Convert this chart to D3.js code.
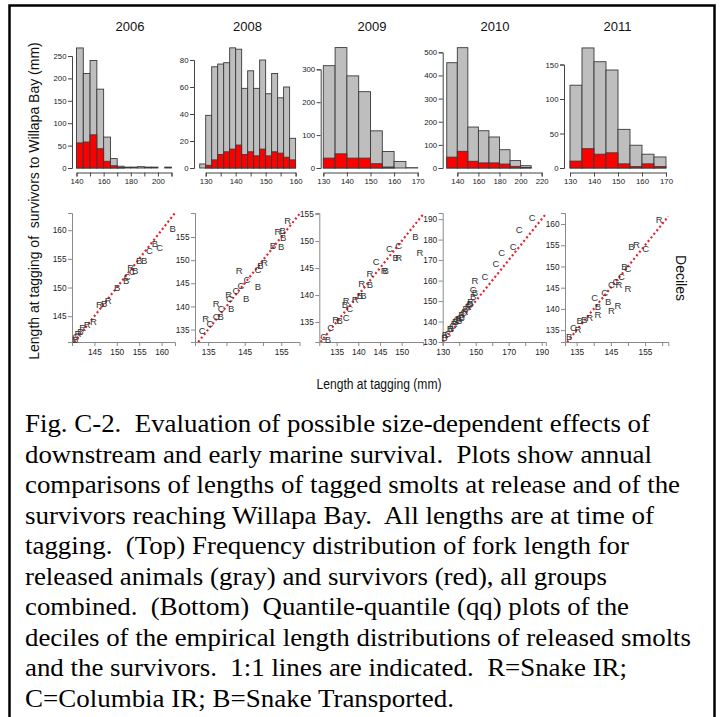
<!DOCTYPE html>
<html><head><meta charset="utf-8">
<script src="https://cdn.jsdelivr.net/npm/d3@7"></script>
<style>
body{margin:0;background:#fff}
svg{display:block}
text{font-family:"Liberation Sans",Arial,sans-serif}
text.cap{font-family:"Liberation Serif","Times New Roman",serif}
</style>
</head><body>
<svg id="c" width="723" height="717"></svg>
<script>
// ---------------- DATA ----------------
const years = ["2006","2008","2009","2010","2011"];

// Histograms: bin starts, bin width, released (gray) counts, survivor (red) counts
const hist2006Start = [140,145,150,155,160,165,170,175,180,185,190,195,200,205];
const hist2006Width = 5;
const hist2006Released = [268,211,240,176,69,21,4,2,2,3,2,2,0,2];
const hist2006Survivors = [56,58,74,43,15,5,1,0,0,0,0,0,0,0];

const hist2008Start = [128,130,132,134,136,138,140,142,144,146,148,150,152,154,156,158];
const hist2008Width = 2;
const hist2008Released = [3,39,75,77,78,89,88,59,72,59,80,55,70,52,60,22];
const hist2008Survivors = [0,2,6,10,12,14,17,10,12,9,14,9,12,11,8,6];

const hist2009Start = [130,135,140,145,150,155,160,165];
const hist2009Width = 5;
const hist2009Released = [311,366,280,232,113,50,20,1];
const hist2009Survivors = [30,43,30,30,13,3,0,0];

const hist2010Start = [130,140,150,160,170,180,190,200];
const hist2010Width = 10;
const hist2010Released = [455,520,177,161,134,79,32,10];
const hist2010Survivors = [47,72,29,22,22,17,7,2];

const hist2011Start = [130,135,140,145,150,155,160,165];
const hist2011Width = 5;
const hist2011Released = [120,174,154,142,56,33,20,16];
const hist2011Survivors = [10,28,20,22,6,2,6,2];

// Histogram axis ticks
const histXTicks2006 = [140,150,160,170,180,190,200,210], histXLabels2006 = [140,160,180,200];
const histXTicks2008 = [130,135,140,145,150,155,160], histXLabels2008 = [130,140,150,160];
const histXTicks2009 = [130,140,150,160,170], histXLabels2009 = [130,140,150,160,170];
const histXTicks2010 = [140,160,180,200,220], histXLabels2010 = [140,160,180,200,220];
const histXTicks2011 = [130,140,150,160,170], histXLabels2011 = [130,140,150,160,170];
const histYTicks2006 = [0,50,100,150,200,250];
const histYTicks2008 = [0,20,40,60,80];
const histYTicks2009 = [0,100,200,300];
const histYTicks2010 = [0,100,200,300,400,500];
const histYTicks2011 = [0,50,100,150];

// QQ plots of deciles: [released length, survivor length] per group
const qqR2006 = [[142.4,143.1],[143.4,143.6],[144.8,144.0],[146.1,147.0],[148.1,147.7],[153.1,153.5],[141.3,141.9]];
const qqC2006 = [[140.9,141.5],[152.3,152.0],[153.5,152.8],[157.3,156.4],[159.6,157.0]];
const qqB2006 = [[140.7,141.0],[141.9,142.3],[147.2,147.3],[150.1,150.0],[152.1,151.2],[154.1,152.9],[155.0,154.8],[156.1,154.8],[158.5,157.6],[162.5,160.3]];

const qqR2008 = [[134.3,137.4],[137.2,140.7],[140.6,142.5],[143.5,147.7],[150.4,149.4],[154.1,156.1],[156.8,158.6]];
const qqC2008 = [[133.4,134.7],[135.5,136.3],[137.2,137.8],[138.6,139.6],[140.8,141.7],[142.6,143.4],[144.0,144.6],[145.6,145.8],[148.6,148.0]];
const qqB2008 = [[138.4,137.8],[141.3,139.6],[145.4,141.8],[148.6,144.3],[149.3,148.9],[152.7,153.2],[155.0,153.0],[155.4,156.4],[155.5,155.0]];

const qqR2009 = [[134.8,135.5],[137.2,139.0],[139.3,139.1],[140.8,142.2],[142.7,144.0],[146.0,144.6],[149.3,146.9],[154.2,147.9]];
const qqC2009 = [[132.0,132.3],[133.6,134.0],[137.2,135.9],[138.0,137.5],[144.1,146.3],[147.2,148.7],[149.3,149.2]];
const qqB2009 = [[133.0,131.8],[135.7,135.3],[136.9,138.2],[140.4,139.9],[141.2,140.0],[142.7,141.9],[146.3,144.6],[148.6,146.9],[153.2,150.8]];

const qqR2010 = [[131.5,133.5],[134.5,136.5],[137,139],[139.5,141.5],[141.5,143.5],[143.5,145],[145.5,147.5],[147,150],[149.6,160.2]];
const qqC2010 = [[133,134],[136,138],[138.5,141],[140.5,142],[142.5,144.5],[146,148.5],[148.5,155.7],[155.6,161.9],[162.3,168.4],[165.8,173.6],[172.8,176.8],[176.3,185.0],[184.2,190.8]];
const qqB2010 = [[131,132],[135,136.5],[137.5,140],[140,140.5],[141.5,142],[144,146.5],[146.5,149],[148.5,152],[149.6,154]];

const qqR2011 = [[135.4,135.2],[138.8,137.9],[141.2,138.7],[145.2,139.7],[147.1,140.7],[147.4,145.8],[150.0,144.8],[152.5,155.2],[159.1,161.0]];
const qqC2011 = [[134.1,135.6],[140.3,142.6],[143.2,143.8],[145.2,145.8],[146.5,146.5],[148.1,147.7],[150.0,149.5],[155.2,154.2]];
const qqB2011 = [[132.8,133.4],[135.9,137.2],[137.3,137.6],[141.2,140.5],[144.2,141.7],[149.0,150.1],[151.0,154.8]];

// QQ axis ticks
const qqXTicks2006 = [145,150,155,160], qqXLabels2006 = [145,150,155,160], qqYTicks2006 = [145,150,155,160];
const qqXTicks2008 = [135,140,145,150,155], qqXLabels2008 = [135,145,155], qqYTicks2008 = [135,140,145,150,155];
const qqXTicks2009 = [135,140,145,150], qqXLabels2009 = [135,140,145,150], qqYTicks2009 = [135,140,145,150,155];
const qqXTicks2010 = [130,140,150,160,170,180,190], qqXLabels2010 = [130,150,170,190], qqYTicks2010 = [130,140,150,160,170,180,190];
const qqXTicks2011 = [135,140,145,150,155,160], qqXLabels2011 = [135,145,155], qqYTicks2011 = [135,140,145,150,155,160];

const yLabel = "Length at tagging of  survivors to Willapa Bay (mm)";
const xLabel = "Length at tagging (mm)";
const sideLabel = "Deciles";
const captionLines = [
  "Fig. C-2.  Evaluation of possible size-dependent effects of",
  "downstream and early marine survival.  Plots show annual",
  "comparisons of lengths of tagged smolts at release and of the",
  "survivors reaching Willapa Bay.  All lengths are at time of",
  "tagging.  (Top) Frequency distribution of fork length for",
  "released animals (gray) and survivors (red), all groups",
  "combined.  (Bottom)  Quantile-quantile (qq) plots of the",
  "deciles of the empirical length distributions of released smolts",
  "and the survivors.  1:1 lines are indicated.  R=Snake IR;",
  "C=Columbia IR; B=Snake Transported."
];

// ---------------- LAYOUT ----------------
const svg = d3.select("#c");
const histBase = 168, histAxisY = 172.5;

const histPanels = [
  {year:years[0], starts:hist2006Start, w:hist2006Width, rel:hist2006Released, sur:hist2006Survivors,
   xDom:[140,210], xRange:[76.5,171.5], yDom:[0,250], yTop:56, axisX:72, titleX:130,
   xTicks:histXTicks2006, xLabels:histXLabels2006, yTicks:histYTicks2006},
  {year:years[1], starts:hist2008Start, w:hist2008Width, rel:hist2008Released, sur:hist2008Survivors,
   xDom:[130,160], xRange:[205.7,295.6], yDom:[0,80], yTop:60, axisX:194, titleX:247.5,
   xTicks:histXTicks2008, xLabels:histXLabels2008, yTicks:histYTicks2008},
  {year:years[2], starts:hist2009Start, w:hist2009Width, rel:hist2009Released, sur:hist2009Survivors,
   xDom:[130,170], xRange:[323.3,417.7], yDom:[0,300], yTop:69.3, axisX:320.7, titleX:372,
   xTicks:histXTicks2009, xLabels:histXLabels2009, yTicks:histYTicks2009},
  {year:years[3], starts:hist2010Start, w:hist2010Width, rel:hist2010Released, sur:hist2010Survivors,
   xDom:[140,220], xRange:[457.3,541.7], yDom:[0,500], yTop:52.3, axisX:442.7, titleX:495,
   xTicks:histXTicks2010, xLabels:histXLabels2010, yTicks:histYTicks2010},
  {year:years[4], starts:hist2011Start, w:hist2011Width, rel:hist2011Released, sur:hist2011Survivors,
   xDom:[130,170], xRange:[570,666], yDom:[0,150], yTop:64.5, axisX:564, titleX:617.5,
   xTicks:histXTicks2011, xLabels:histXLabels2011, yTicks:histYTicks2011}
];

const qqBase = 342, qqTop = 213;
const qqPanels = [
  {xDom:[140,163], xRange:[72,175], yDom:[140.5,163], R:qqR2006, C:qqC2006, B:qqB2006,
   xTicks:qqXTicks2006, xLabels:qqXLabels2006, yTicks:qqYTicks2006},
  {xDom:[131.4,160], xRange:[195,299.5], yDom:[132.3,160.2], R:qqR2008, C:qqC2008, B:qqB2008,
   xTicks:qqXTicks2008, xLabels:qqXLabels2008, yTicks:qqYTicks2008},
  {xDom:[131,155], xRange:[319.3,423.3], yDom:[131.3,155.2], R:qqR2009, C:qqC2009, B:qqB2009,
   xTicks:qqXTicks2009, xLabels:qqXLabels2009, yTicks:qqYTicks2009},
  {xDom:[130,192.5], xRange:[442.7,545.8], yDom:[130,193], R:qqR2010, C:qqC2010, B:qqB2010,
   xTicks:qqXTicks2010, xLabels:qqXLabels2010, yTicks:qqYTicks2010},
  {xDom:[131.6,161.8], xRange:[565,668.3], yDom:[132.2,162.6], R:qqR2011, C:qqC2011, B:qqB2011,
   xTicks:qqXTicks2011, xLabels:qqXLabels2011, yTicks:qqYTicks2011}
];

function styleAxis(sel, color, fs){
  sel.attr("font-size", null).attr("font-family", null);
  sel.select(".domain").attr("stroke", color).attr("stroke-width", 1);
  sel.selectAll(".tick line").attr("stroke", color).attr("stroke-width", 1);
  sel.selectAll(".tick text").attr("fill", "#222").attr("font-size", fs);
}

// ---------------- HISTOGRAMS ----------------
histPanels.forEach(p => {
  const x = d3.scaleLinear().domain(p.xDom).range(p.xRange);
  const y = d3.scaleLinear().domain(p.yDom).range([histBase, p.yTop]);
  const g = svg.append("g");
  const bars = p.starts.map((s, i) => ({s, e: s + p.w, rel: p.rel[i], sur: p.sur[i]}));
  g.selectAll("rect.gray").data(bars).join("rect").attr("class","gray")
    .attr("x", d => x(d.s)).attr("width", d => x(d.e) - x(d.s))
    .attr("y", d => y(d.rel)).attr("height", d => y(0) - y(d.rel))
    .attr("fill", "#bebebe").attr("stroke", "#3a3a3a").attr("stroke-width", 0.9);
  g.selectAll("rect.red").data(bars.filter(d => d.sur > 0)).join("rect").attr("class","red")
    .attr("x", d => x(d.s)).attr("width", d => x(d.e) - x(d.s))
    .attr("y", d => y(d.sur)).attr("height", d => y(0) - y(d.sur))
    .attr("fill", "#ff0000").attr("stroke", "#3a3a3a").attr("stroke-width", 0.9);

  const xa = g.append("g").attr("transform", `translate(0,${histAxisY})`)
    .call(d3.axisBottom(x).tickValues(p.xTicks).tickSizeOuter(0).tickSize(4).tickPadding(2)
      .tickFormat(d => p.xLabels.includes(d) ? d : ""));
  styleAxis(xa, "#444", 7.8);
  const ya = g.append("g").attr("transform", `translate(${p.axisX},0)`)
    .call(d3.axisLeft(y).tickValues(p.yTicks).tickSizeOuter(0).tickSize(4).tickPadding(1.5));
  styleAxis(ya, "#444", 7.8);

  svg.append("text").attr("x", p.titleX).attr("y", 31).attr("text-anchor","middle")
    .attr("font-size", 13).attr("fill","#111").text(p.year);
});

// ---------------- QQ PLOTS ----------------
qqPanels.forEach(p => {
  const x = d3.scaleLinear().domain(p.xDom).range(p.xRange);
  const y = d3.scaleLinear().domain(p.yDom).range([qqBase, qqTop]);
  const g = svg.append("g");
  const lo = Math.max(p.xDom[0], p.yDom[0]), hi = Math.min(p.xDom[1], p.yDom[1]);
  g.append("line").attr("x1", x(lo)).attr("y1", y(lo)).attr("x2", x(hi)).attr("y2", y(hi))
    .attr("stroke", "#e8202a").attr("stroke-width", 2.2).attr("stroke-dasharray", "2,2.6");

  const xa = g.append("g").attr("transform", `translate(0,${qqBase})`)
    .call(d3.axisBottom(x).tickValues(p.xTicks).tickSizeOuter(0).tickSize(4).tickPadding(3)
      .tickFormat(d => p.xLabels.includes(d) ? d : ""));
  styleAxis(xa, "#8a8a8a", 8.3);
  const ya = g.append("g").attr("transform", `translate(${p.xRange[0]},0)`)
    .call(d3.axisLeft(y).tickValues(p.yTicks).tickSizeOuter(0).tickSize(4).tickPadding(1.5));
  styleAxis(ya, "#8a8a8a", 8.3);

  [["R", p.R], ["C", p.C], ["B", p.B]].forEach(([lab, pts]) => {
    g.selectAll(null).data(pts).join("text")
      .attr("x", d => x(d[0])).attr("y", d => y(d[1]))
      .attr("text-anchor","middle").attr("dominant-baseline","central")
      .attr("font-size", 9.5).attr("fill", "#333").text(lab);
  });
});

// ---------------- LABELS ----------------
svg.append("text").attr("transform","translate(39,201) rotate(-90)")
  .attr("text-anchor","middle").attr("font-size",14).attr("fill","#111")
  .style("white-space","pre").text(yLabel);
svg.append("text").attr("x",379).attr("y",389).attr("text-anchor","middle")
  .attr("font-size",14).attr("fill","#111")
  .attr("textLength",125).attr("lengthAdjust","spacingAndGlyphs").text(xLabel);
svg.append("text").attr("transform","translate(676,278) rotate(90)")
  .attr("text-anchor","middle").attr("font-size",14).attr("fill","#111").text(sideLabel);

// ---------------- CAPTION ----------------
const capEnds = [650,652,680,654,629,607,629,691,627,454];
const capX = 25;
svg.selectAll("text.cap").data(captionLines).join("text").attr("class","cap")
  .attr("x", capX).attr("y", (d,i) => 432 + i*30.5)
  .attr("font-size",24.5)
  .attr("fill","#000")
  .style("white-space","pre")
  .attr("textLength",(d,i) => capEnds[i]-capX).attr("lengthAdjust","spacingAndGlyphs")
  .text(d => d);

// ---------------- FRAME ----------------
svg.append("path").attr("d","M9.5,720 V5.5 H714.5 V720")
  .attr("fill","none").attr("stroke","#000").attr("stroke-width",2.5);
</script>
</body></html>
